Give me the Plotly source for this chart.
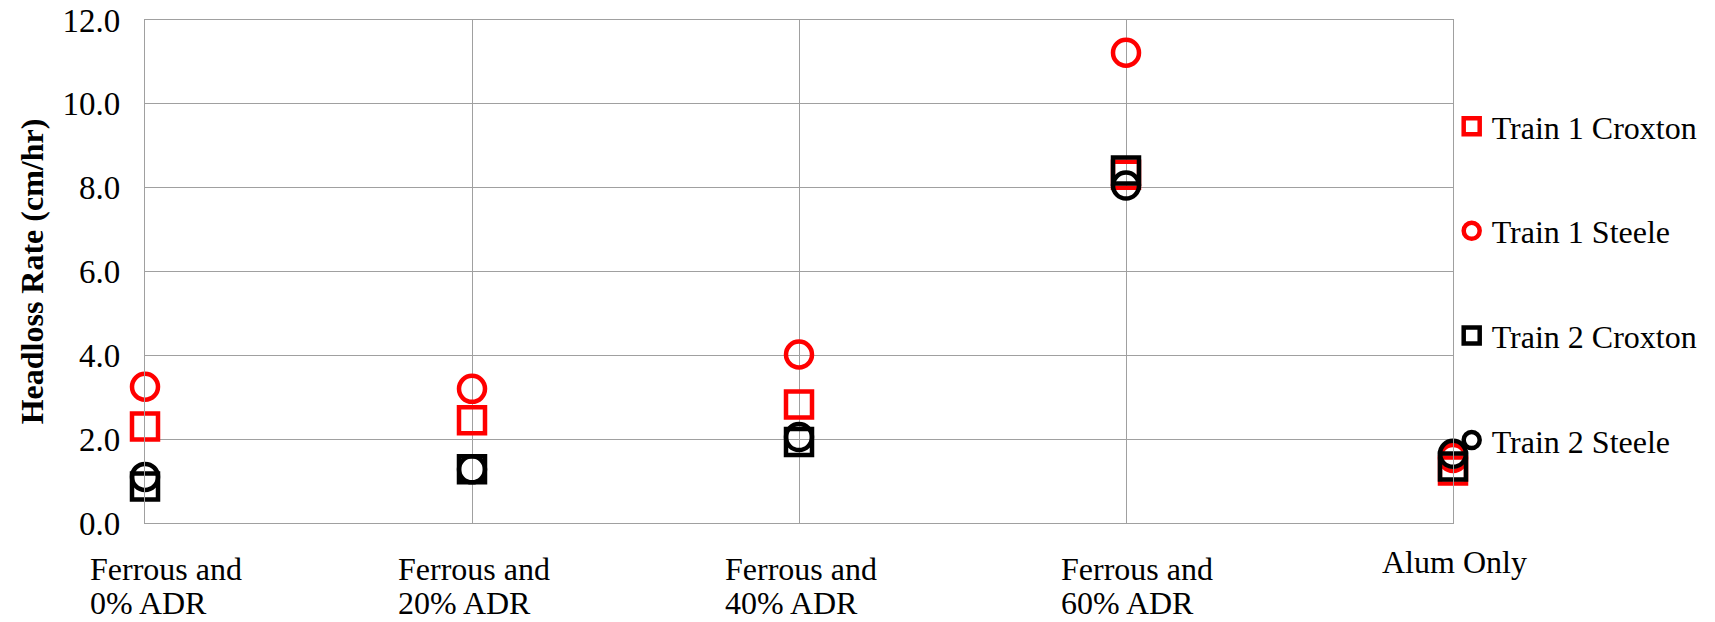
import plotly.graph_objects as go

categories = ["Ferrous and<br>0% ADR", "Ferrous and<br>20% ADR", "Ferrous and<br>40% ADR",
              "Ferrous and<br>60% ADR", "Alum Only"]
train1_croxton = [2.30, 2.45, 2.83, 8.31, 1.25]
train1_steele = [3.25, 3.20, 4.02, 11.22, 1.55]
train2_croxton = [0.87, 1.28, 1.93, 8.41, 1.35]
train2_steele = [1.10, 1.28, 2.05, 8.05, 1.65]
y_ticks = [0, 2, 4, 6, 8, 10, 12]

font = "Liberation Serif, Times New Roman, serif"
grid = "#a0a0a0"
x = list(range(len(categories)))

fig = go.Figure()
series = [
    ("Train 1 Croxton", train1_croxton, "square-open", "#ff0000"),
    ("Train 1 Steele", train1_steele, "circle-open", "#ff0000"),
    ("Train 2 Croxton", train2_croxton, "square-open", "#000000"),
    ("Train 2 Steele", train2_steele, "circle-open", "#000000"),
]
for name, vals, sym, col in series:
    fig.add_trace(go.Scatter(
        x=x, y=vals, mode="markers", name=name, legendgroup=name,
        cliponaxis=False,
        marker=dict(symbol=sym, size=26, color=col, line=dict(width=4.5, color=col)),
    ))

# category labels: each line its own annotation so lines sit close and left-aligned
nudge = [19, 0, 0, 9, 3]
for i, lab in enumerate(categories):
    lines = lab.split("<br>")
    if len(lines) == 1:
        shifts = [-39]
    else:
        shifts = [-46, -80]
    for ln, ys in zip(lines, shifts):
        fig.add_annotation(x=i, y=0, xref="x", yref="paper", text=ln, showarrow=False,
                           xanchor="left", yanchor="middle", align="left",
                           xshift=-76 + nudge[i], yshift=ys,
                           font=dict(family=font, size=32, color="black"))

fig.update_layout(
    width=1715, height=622,
    margin=dict(l=145, r=259, t=20, b=99),
    paper_bgcolor="white", plot_bgcolor="white",
    font=dict(family=font, size=32, color="black"),
    showlegend=True,
    legend=dict(x=0.999, y=0.843, xanchor="left", yanchor="top",
                bgcolor="rgba(0,0,0,0)",
                traceorder="grouped", tracegroupgap=60,
                font=dict(family=font, size=32, color="black"),
                itemwidth=30),
    xaxis=dict(range=[0, 4], tickvals=x, showticklabels=False, automargin=False,
               showgrid=True, gridcolor=grid, gridwidth=1.3,
               zeroline=False, showline=True, mirror=True, linecolor=grid, linewidth=1.3),
    yaxis=dict(range=[0, 12], tickvals=y_ticks, tickformat=".1f", automargin=False,
               showgrid=True, gridcolor=grid, gridwidth=1.3,
               zeroline=False, showline=True, mirror=True, linecolor=grid, linewidth=1.3,
               ticklabelstandoff=17, ticklabeloverflow="allow",
               tickfont=dict(family=font, size=33, color="black"),
               title=dict(text="<b>Headloss Rate (cm/hr)</b>", standoff=9,
                          font=dict(family=font, size=32, color="black"))),
)

# drop the default 8px page margin so the figure fills the window exactly
fig.write_html("out.html", config={"displayModeBar": False},
               post_script="document.body.style.margin='0';")
